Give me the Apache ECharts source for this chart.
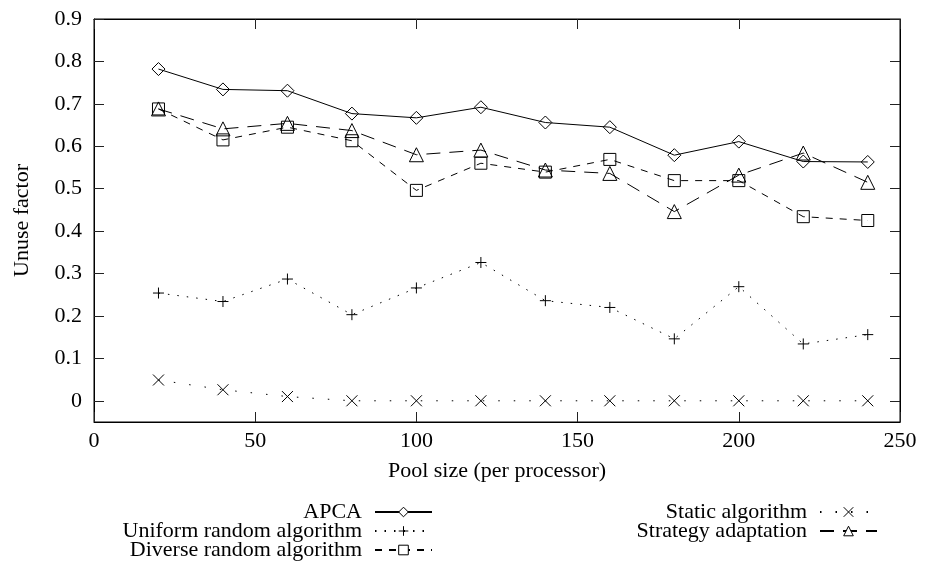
<!DOCTYPE html>
<html>
<head>
<meta charset="utf-8">
<script src="https://cdn.jsdelivr.net/npm/echarts@6/dist/echarts.min.js"></script>
<style>
  html, body { margin: 0; padding: 0; background: #fff; }
  #chart { width: 925px; height: 564px; }
</style>
</head>
<body>
<div id="chart"></div>
<script>
// pool size (per processor)
var poolSizes = [20, 40, 60, 80, 100, 120, 140, 160, 180, 200, 220, 240];

var apca = [0.782, 0.734, 0.731, 0.677, 0.667, 0.692, 0.656, 0.645, 0.579, 0.611, 0.564, 0.563];
var uniformRandom = [0.254, 0.234, 0.287, 0.203, 0.266, 0.326, 0.236, 0.220, 0.146, 0.269, 0.134, 0.156];
var diverseRandom = [0.688, 0.615, 0.645, 0.613, 0.496, 0.560, 0.539, 0.569, 0.519, 0.519, 0.434, 0.425];
var staticAlg = [0.049, 0.026, 0.010, 0, 0, 0, 0, 0, 0, 0, 0, 0];
var strategyAdapt = [0.688, 0.641, 0.654, 0.637, 0.580, 0.591, 0.544, 0.536, 0.446, 0.532, 0.584, 0.515];

var yTicks = [0, 0.1, 0.2, 0.3, 0.4, 0.5, 0.6, 0.7, 0.8, 0.9];

var font = "Liberation Serif";
var fs = 22;

function pairs(ys) {
  return poolSizes.map(function (x, i) { return [x, ys[i]]; });
}

var plusPath = "path://M0,5L10,5M5,0L5,10";
var crossPath = "path://M0,0L10,10M0,10L10,0";

function mkSeries(name, ys, symbol, size, dash) {
  return {
    name: name,
    type: "line",
    data: pairs(ys),
    symbol: symbol,
    symbolSize: size,
    showAllSymbol: true,
    animation: false,
    lineStyle: { color: "#000", width: 1, type: dash },
    itemStyle: { color: "none", borderColor: "#000", borderWidth: 1 },
    emphasis: { disabled: true }
  };
}

function mkLegend(name, right, top) {
  return {
    data: [{ name: name, itemStyle: { color: "#fff", borderColor: "#000", borderWidth: 1 } }],
    orient: "vertical",
    align: "right",
    right: right,
    top: top,
    padding: 0,
    itemWidth: 57,
    itemHeight: 12,
    selectedMode: false,
    textStyle: { fontFamily: font, fontSize: fs, color: "#000", padding: [0, 8, 0, 0] }
  };
}

// ticks point into the plot, like the gnuplot original
function ticks(extra) {
  return Object.assign({ show: true, inside: false, length: -10, lineStyle: { color: "#222", width: 1 } }, extra || {});
}

var option = {
  backgroundColor: "#fff",
  animation: false,
  textStyle: { fontFamily: font, color: "#000" },
  grid: {
    left: 94, right: 25, top: 19, bottom: 142,
    outerBoundsMode: "none", containLabel: false,
    show: true, borderColor: "#000", borderWidth: 1
  },
  legend: [
    mkLegend("APCA", 492, 501),
    mkLegend("Uniform random algorithm", 492, 520),
    mkLegend("Diverse random algorithm", 492, 539),
    mkLegend("Static algorithm", 47, 501),
    mkLegend("Strategy adaptation", 47, 520)
  ],
  xAxis: [
    {
      type: "value", min: 0, max: 250, interval: 50, position: "bottom",
      name: "Pool size (per processor)", nameLocation: "middle", nameGap: 38,
      nameTextStyle: { fontFamily: font, fontSize: fs, color: "#000" },
      axisLine: { onZero: false, lineStyle: { color: "#000" } },
      axisTick: ticks(),
      axisLabel: { fontFamily: font, fontSize: fs, color: "#000", margin: 8 },
      splitLine: { show: false }
    },
    {
      type: "value", min: 0, max: 250, interval: 50, position: "top",
      axisLine: { onZero: false, lineStyle: { color: "#000" } },
      axisTick: ticks(),
      axisLabel: { show: false },
      splitLine: { show: false }
    }
  ],
  yAxis: [
    {
      type: "value", min: -0.05, max: 0.9, position: "left",
      name: "Unuse factor", nameLocation: "middle", nameGap: 61,
      nameTextStyle: { fontFamily: font, fontSize: fs, color: "#000" },
      axisLine: { show: true, onZero: false, lineStyle: { color: "#000" } },
      axisTick: ticks({ customValues: yTicks }),
      axisLabel: {
        customValues: yTicks, fontFamily: font, fontSize: fs, color: "#000", margin: 12,
        formatter: function (v) { return v === 0 ? "0" : v.toFixed(1); }
      },
      splitLine: { show: false }
    },
    {
      type: "value", min: -0.05, max: 0.9, position: "right",
      axisLine: { show: true, onZero: false, lineStyle: { color: "#000" } },
      axisTick: ticks({ customValues: yTicks }),
      axisLabel: { show: false, customValues: yTicks },
      splitLine: { show: false }
    }
  ],
  series: [
    mkSeries("APCA", apca, "diamond", 13, "solid"),
    mkSeries("Uniform random algorithm", uniformRandom, plusPath, 11, [1.5, 8]),
    mkSeries("Diverse random algorithm", diverseRandom, "rect", 12, [7, 7]),
    mkSeries("Static algorithm", staticAlg, crossPath, 11, [1.5, 14]),
    mkSeries("Strategy adaptation", strategyAdapt, "triangle", 14, [14, 9])
  ]
};

var chart = echarts.init(document.getElementById("chart"));
chart.setOption(option);
</script>
</body>
</html>
